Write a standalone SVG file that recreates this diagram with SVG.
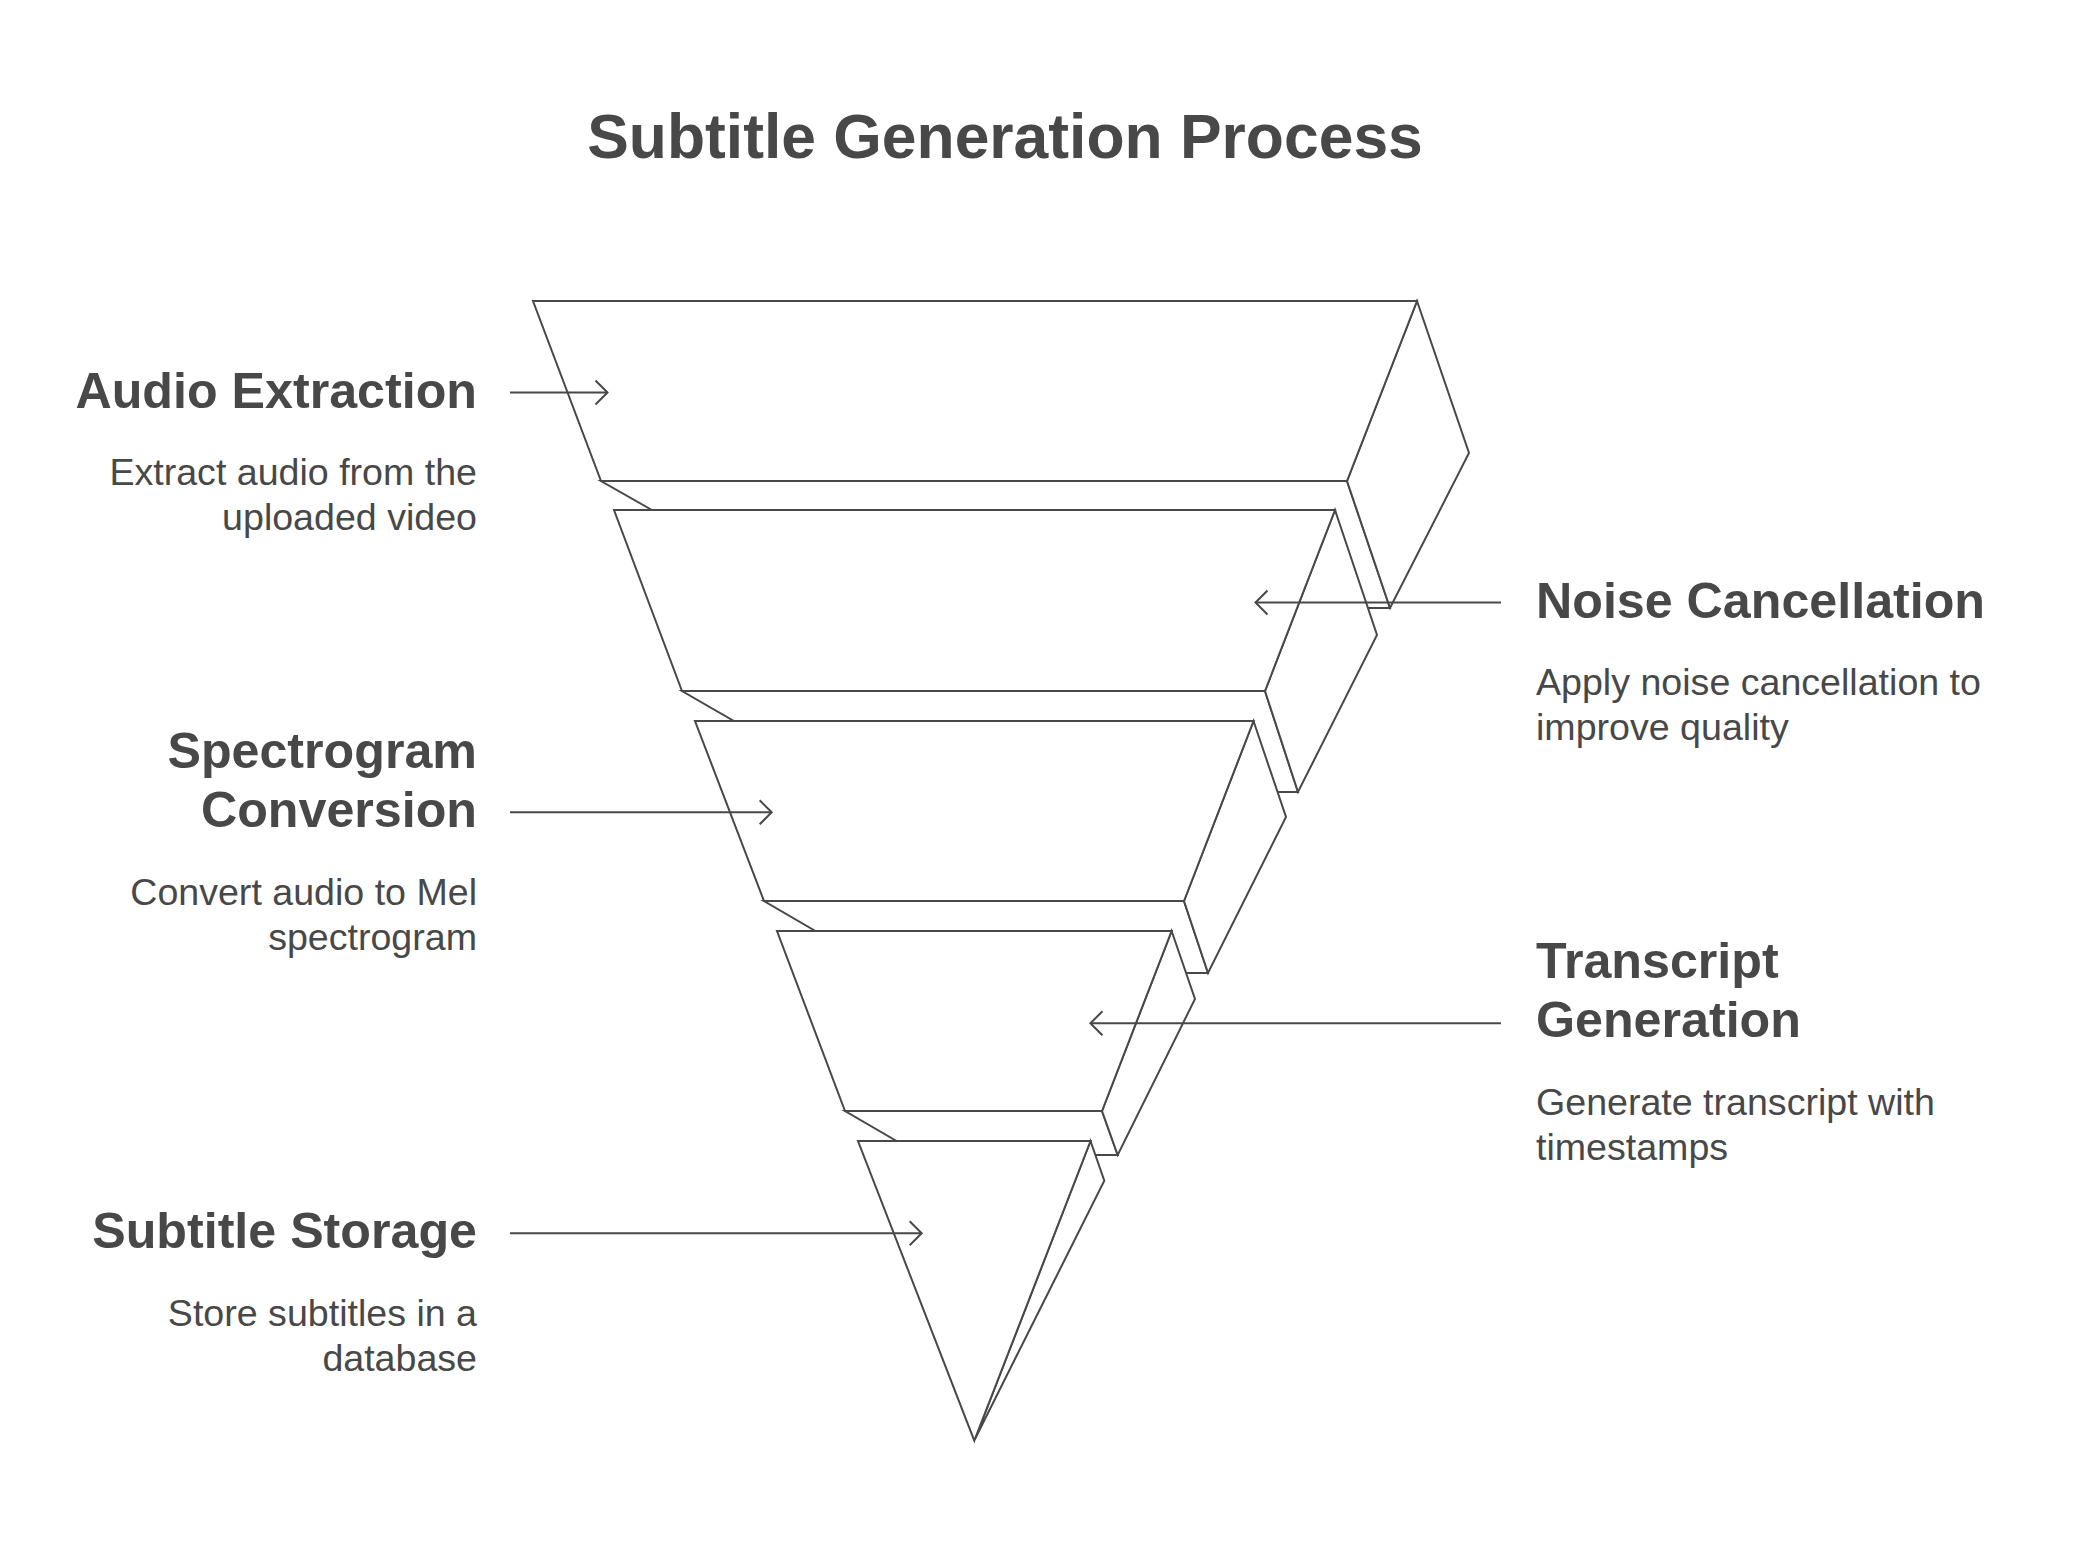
<svg xmlns="http://www.w3.org/2000/svg" width="2073" height="1563" viewBox="0 0 2073 1563">
  <style>
    .shape { fill: #ffffff; stroke: #484848; stroke-width: 2; stroke-linejoin: miter; }
    .title { font-family: "Liberation Sans", Arial, sans-serif; font-weight: bold; font-size: 62.4px; fill: #484848; }
    .label { font-family: "Liberation Sans", Arial, sans-serif; font-weight: bold; font-size: 50.2px; fill: #484848; }
    .desc { font-family: "Liberation Sans", Arial, sans-serif; font-size: 37.6px; fill: #484848; }
    .conn { fill: none; stroke: #484848; stroke-width: 2; marker-end: url(#arr); }
  </style>
  <defs>
    <marker id="arr" markerUnits="userSpaceOnUse" markerWidth="30" markerHeight="30" viewBox="-15 -15 30 30" refX="0" refY="0" orient="auto" overflow="visible">
      <path d="M-12,-12 L0,0 L-12,12" fill="none" stroke="#484848" stroke-width="2"/>
    </marker>
  </defs>
  <rect width="2073" height="1563" fill="#ffffff"/>

  <text class="title" x="1005" y="158" text-anchor="middle">Subtitle Generation Process</text>

  <g id="level-1-audio-extraction">
    <polygon class="shape" points="601,481 1347,481 1390,608 1355,608 1335,510 652,510"/>
    <polygon class="shape" points="1417,301 1469,453 1390,608 1347,481"/>
    <polygon class="shape" points="533,301 1417,301 1347,481 601,481"/>
    <text class="label" x="477" y="408.3" text-anchor="end">Audio Extraction</text>
    <text class="desc" x="477" y="485" text-anchor="end">Extract audio from the</text>
    <text class="desc" x="477" y="530" text-anchor="end">uploaded video</text>
  </g>

  <g id="level-2-noise-cancellation">
    <polygon class="shape" points="682,691 1265,691 1298,792 1265,792 1253.5,721 734,721"/>
    <polygon class="shape" points="1335,510 1377,635 1298,792 1265,691"/>
    <polygon class="shape" points="614,510 1335,510 1265,691 682,691"/>
    <text class="label" x="1536" y="618.3">Noise Cancellation</text>
    <text class="desc" x="1536" y="695">Apply noise cancellation to</text>
    <text class="desc" x="1536" y="740">improve quality</text>
  </g>

  <g id="level-3-spectrogram-conversion">
    <polygon class="shape" points="764,901 1184,901 1208,973 1175,973 1171.6,931 815.5,931"/>
    <polygon class="shape" points="1253.5,721 1286,817 1208,973 1184,901"/>
    <polygon class="shape" points="695,721 1253.5,721 1184,901 764,901"/>
    <text class="label" x="477" y="768.3" text-anchor="end">Spectrogram</text>
    <text class="label" x="477" y="827.3" text-anchor="end">Conversion</text>
    <text class="desc" x="477" y="905" text-anchor="end">Convert audio to Mel</text>
    <text class="desc" x="477" y="949.5" text-anchor="end">spectrogram</text>
  </g>

  <g id="level-4-transcript-generation">
    <polygon class="shape" points="845,1111 1102,1111 1117.7,1155 1089,1155 1090.5,1141 896.7,1141"/>
    <polygon class="shape" points="1171.6,931 1195,999 1117.7,1155 1102,1111"/>
    <polygon class="shape" points="777,931 1171.6,931 1102,1111 845,1111"/>
    <text class="label" x="1536" y="978.3">Transcript</text>
    <text class="label" x="1536" y="1037.3">Generation</text>
    <text class="desc" x="1536" y="1115">Generate transcript with</text>
    <text class="desc" x="1536" y="1159.5">timestamps</text>
  </g>

  <g id="level-5-subtitle-storage">
    <polygon class="shape" points="1090.5,1141 1104.3,1180.7 975,1439"/>
    <polygon class="shape" points="858,1141 1090.5,1141 974.3,1440.7"/>
    <text class="label" x="477" y="1247.5" text-anchor="end">Subtitle Storage</text>
    <text class="desc" x="477" y="1325.5" text-anchor="end">Store subtitles in a</text>
    <text class="desc" x="477" y="1370.5" text-anchor="end">database</text>
  </g>

  <g id="connectors">
    <path class="conn" d="M510,392.5 H607.5"/>
    <path class="conn" d="M1501,602.5 H1255.5"/>
    <path class="conn" d="M510,812.3 H771.7"/>
    <path class="conn" d="M1501,1023.3 H1090.4"/>
    <path class="conn" d="M510,1233.3 H921.7"/>
  </g>
</svg>
